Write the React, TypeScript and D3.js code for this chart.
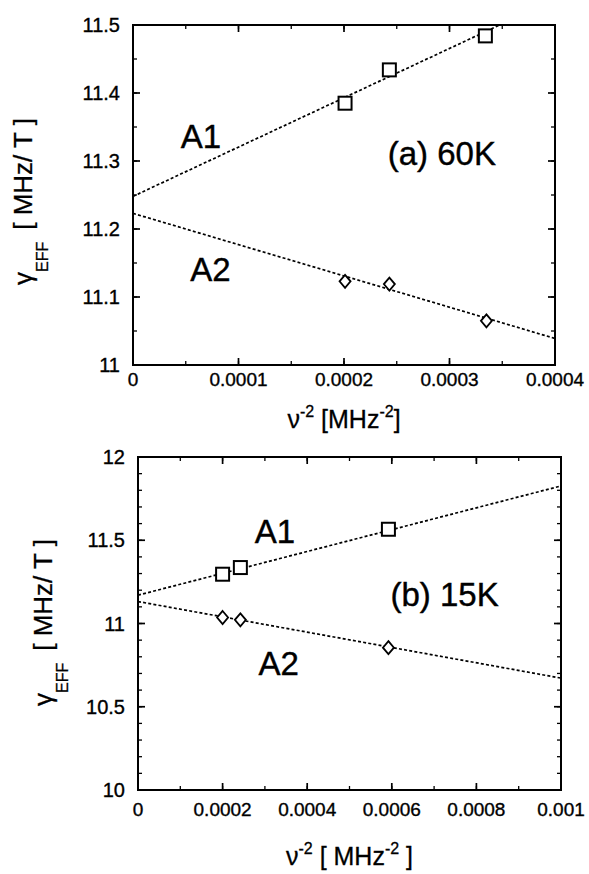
import React from 'react';
import * as d3 from 'd3';

// panel (a) 60K
const xA1a = [0.000201, 0.000243, 0.000334];
const yA1a = [11.385, 11.434, 11.484];
const xA2a = [0.000201, 0.000243, 0.000335];
const yA2a = [11.123, 11.119, 11.065];
const fitA1a = [11.248, 11.538];
const fitA2a = [11.223, 11.039];
const xTicksA = [0, 0.0001, 0.0002, 0.0003, 0.0004];
const yTicksA = [11, 11.1, 11.2, 11.3, 11.4, 11.5];
const xLabelsA = ['0', '0.0001', '0.0002', '0.0003', '0.0004'];
const yLabelsA = ['11', '11.1', '11.2', '11.3', '11.4', '11.5'];

// panel (b) 15K
const xA1b = [0.0002, 0.000242, 0.000592];
const yA1b = [11.296, 11.336, 11.566];
const xA2b = [0.0002, 0.000242, 0.000592];
const yA2b = [11.036, 11.022, 10.855];
const fitA1b = [11.17, 11.826];
const fitA2b = [11.132, 10.672];
const xTicksB = [0, 0.0002, 0.0004, 0.0006, 0.0008, 0.001];
const yTicksB = [10, 10.5, 11, 11.5, 12];
const xLabelsB = ['0', '0.0002', '0.0004', '0.0006', '0.0008', '0.001'];
const yLabelsB = ['10', '10.5', '11', '11.5', '12'];

const FONT = '"Liberation Sans", Arial, Helvetica, sans-serif';

type Label = { text: string; x: number; y: number };

type PanelProps = {
  id: string;
  box: { left: number; right: number; top: number; bottom: number };
  xDomain: [number, number];
  yDomain: [number, number];
  xTicks: number[];
  yTicks: number[];
  xMinor: number;
  yMinor: number;
  xLabels: string[];
  yLabels: string[];
  a1x: number[]; a1y: number[];
  a2x: number[]; a2y: number[];
  fit1: number[]; fit2: number[];
  labels: Label[];
  xLabelDy: number;
  xTitleY: number;
  xTitleSpaced: boolean;
  yTitleX: number;
  yTitleStart: number;
};

const Panel = (p: PanelProps) => {
  const x = d3.scaleLinear().domain(p.xDomain).range([p.box.left, p.box.right]);
  const y = d3.scaleLinear().domain(p.yDomain).range([p.box.bottom, p.box.top]);
  const line = d3.line<[number, number]>().x(d => x(d[0])).y(d => y(d[1]));
  const minorX = d3.range(p.xDomain[0], p.xDomain[1] + p.xMinor / 2, p.xMinor);
  const minorY = d3.range(p.yDomain[0], p.yDomain[1] + p.yMinor / 2, p.yMinor);
  const clip = `clip-${p.id}`;
  const w = p.box.right - p.box.left;
  const h = p.box.bottom - p.box.top;

  return (
    <g>
      <defs>
        <clipPath id={clip}>
          <rect x={p.box.left} y={p.box.top} width={w} height={h} />
        </clipPath>
      </defs>
      {/* minor ticks, all four sides, pointing in */}
      {minorX.map((v, i) => (
        <g key={'mx' + i} stroke="#000" strokeWidth={1.3}>
          <line x1={x(v)} x2={x(v)} y1={p.box.bottom} y2={p.box.bottom - 4} />
          <line x1={x(v)} x2={x(v)} y1={p.box.top} y2={p.box.top + 4} />
        </g>
      ))}
      {minorY.map((v, i) => (
        <g key={'my' + i} stroke="#000" strokeWidth={1.3}>
          <line x1={p.box.left} x2={p.box.left + 4} y1={y(v)} y2={y(v)} />
          <line x1={p.box.right} x2={p.box.right - 4} y1={y(v)} y2={y(v)} />
        </g>
      ))}
      {p.xTicks.map((v, i) => (
        <g key={'x' + i}>
          <line x1={x(v)} x2={x(v)} y1={p.box.bottom} y2={p.box.bottom - 7} stroke="#000" strokeWidth={1.7} />
          <line x1={x(v)} x2={x(v)} y1={p.box.top} y2={p.box.top + 7} stroke="#000" strokeWidth={1.7} />
          <text x={x(v)} y={p.box.bottom + p.xLabelDy} textAnchor="middle" fontSize={19} fontFamily={FONT}
            stroke="#000" strokeWidth={0.35}>{p.xLabels[i]}</text>
        </g>
      ))}
      {p.yTicks.map((v, i) => (
        <g key={'y' + i}>
          <line x1={p.box.left} x2={p.box.left + 7} y1={y(v)} y2={y(v)} stroke="#000" strokeWidth={1.7} />
          <line x1={p.box.right} x2={p.box.right - 7} y1={y(v)} y2={y(v)} stroke="#000" strokeWidth={1.7} />
          <text x={p.box.left - 13} y={y(v) + 7} textAnchor="end" fontSize={20} fontFamily={FONT}
            stroke="#000" strokeWidth={0.35}>{p.yLabels[i]}</text>
        </g>
      ))}
      <rect x={p.box.left} y={p.box.top} width={w} height={h} fill="none" stroke="#000" strokeWidth={2} />

      {/* linear fits */}
      <g clipPath={`url(#${clip})`} stroke="#000" strokeWidth={1.7} strokeDasharray="3,2.2" fill="none">
        <path d={line([[p.xDomain[0], p.fit1[0]], [p.xDomain[1], p.fit1[1]]]) || ''} />
        <path d={line([[p.xDomain[0], p.fit2[0]], [p.xDomain[1], p.fit2[1]]]) || ''} />
      </g>

      {/* A1: open squares */}
      {p.a1x.map((v, i) => (
        <rect key={'s' + i} x={x(v) - 6.5} y={y(p.a1y[i]) - 6.5} width={13} height={13}
          fill="#fff" stroke="#000" strokeWidth={2} />
      ))}
      {/* A2: open diamonds */}
      {p.a2x.map((v, i) => {
        const cx = x(v), cy = y(p.a2y[i]);
        return <path key={'d' + i} d={`M${cx},${cy - 6.5}L${cx + 5.5},${cy}L${cx},${cy + 6.5}L${cx - 5.5},${cy}Z`}
          fill="#fff" stroke="#000" strokeWidth={1.8} />;
      })}

      {p.labels.map((l, i) => (
        <text key={'l' + i} x={x(l.x)} y={y(l.y)} fontSize={33} fontFamily={FONT}
          stroke="#000" strokeWidth={0.4}>{l.text}</text>
      ))}

      {/* x title */}
      <text x={(p.box.left + p.box.right) / 2} y={p.xTitleY} textAnchor="middle" fontSize={25} fontFamily={FONT}
        stroke="#000" strokeWidth={0.3}>
        {'ν'}
        <tspan dy={-11} fontSize={16}>{'-2'}</tspan>
        <tspan dy={11}>{p.xTitleSpaced ? ' [ MHz' : ' [MHz'}</tspan>
        <tspan dy={-11} fontSize={16}>{'-2'}</tspan>
        <tspan dy={11}>{p.xTitleSpaced ? ' ]' : ']'}</tspan>
      </text>

      {/* y title */}
      <text transform={`translate(${p.yTitleX},${p.yTitleStart}) rotate(-90)`} fontSize={26} fontFamily={FONT}
        stroke="#000" strokeWidth={0.3}>
        {'γ'}
        <tspan dy={16} fontSize={16}>{'EFF'}</tspan>
        <tspan dy={-16} dx={12}>{'[ MHz/ T ]'}</tspan>
      </text>
    </g>
  );
};

const App = () => {
  return (
    <div style={{ position: 'absolute', left: 0, top: 0, background: '#fff' }}>
      <svg width={589} height={874} viewBox="0 0 589 874" style={{ display: 'block' }}>
        <rect x={0} y={0} width={589} height={874} fill="#fff" />
        <Panel
          id="a"
          box={{ left: 133, right: 555, top: 25, bottom: 365 }}
          xDomain={[0, 0.0004]}
          yDomain={[11, 11.5]}
          xTicks={xTicksA}
          yTicks={yTicksA}
          xMinor={0.00005}
          yMinor={0.05}
          xLabels={xLabelsA}
          yLabels={yLabelsA}
          a1x={xA1a} a1y={yA1a} a2x={xA2a} a2y={yA2a}
          fit1={fitA1a} fit2={fitA2a}
          labels={[
            { text: 'A1', x: 0.0000453, y: 11.319 },
            { text: 'A2', x: 0.0000542, y: 11.124 },
            { text: '(a) 60K', x: 0.0002414, y: 11.294 },
          ]}
          xLabelDy={21}
          xTitleY={428}
          xTitleSpaced={false}
          yTitleX={32}
          yTitleStart={285}
        />
        <Panel
          id="b"
          box={{ left: 138, right: 561, top: 457, bottom: 790 }}
          xDomain={[0, 0.001]}
          yDomain={[10, 12]}
          xTicks={xTicksB}
          yTicks={yTicksB}
          xMinor={0.0001}
          yMinor={0.1}
          xLabels={xLabelsB}
          yLabels={yLabelsB}
          a1x={xA1b} a1y={yA1b} a2x={xA2b} a2y={yA2b}
          fit1={fitA1b} fit2={fitA2b}
          labels={[
            { text: 'A1', x: 0.000276, y: 11.486 },
            { text: 'A2', x: 0.000285, y: 10.692 },
            { text: '(b) 15K', x: 0.000597, y: 11.106 },
          ]}
          xLabelDy={26}
          xTitleY={865}
          xTitleSpaced={true}
          yTitleX={52}
          yTitleStart={706}
        />
      </svg>
    </div>
  );
};

export default App;
